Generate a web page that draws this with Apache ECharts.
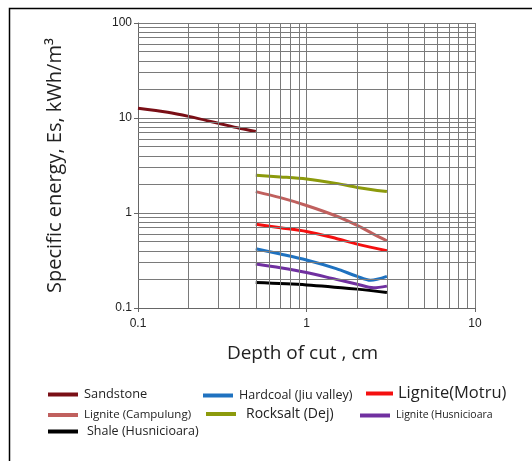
<!DOCTYPE html>
<html><head><meta charset="utf-8">
<script src="https://cdn.jsdelivr.net/npm/echarts@6/dist/echarts.min.js"></script>
<style>html,body{margin:0;padding:0;background:#fff}#c{width:532px;height:461px}</style>
</head><body><div id="c"></div>
<script>
const seriesNames = ['Sandstone','Hardcoal (Jiu valley)','Lignite(Motru)','Lignite (Campulung)','Rocksalt (Dej)','Lignite (Husnicioara','Shale (Husnicioara)'];
const sandstone = [[0.1,12.7],[0.15,11.5],[0.2,10.4],[0.3,8.8],[0.4,7.8],[0.5,7.2]];
const hardcoal = [[0.5,0.42],[0.7,0.37],[1,0.32],[1.5,0.26],[2,0.215],[2.4,0.196],[3,0.215]];
const ligniteMotru = [[0.5,0.76],[0.7,0.70],[1,0.64],[1.5,0.54],[2,0.47],[3,0.40]];
const ligniteCampulung = [[0.5,1.68],[0.7,1.45],[1,1.2],[1.5,0.93],[2,0.74],[2.5,0.6],[3,0.51]];
const rocksalt = [[0.5,2.5],[0.7,2.4],[1,2.28],[1.5,2.05],[2,1.86],[3,1.68]];
const ligniteHusnicioara = [[0.5,0.29],[0.7,0.265],[1,0.236],[1.5,0.2],[2,0.178],[2.5,0.163],[3,0.17]];
const shale = [[0.5,0.185],[1,0.175],[2,0.158],[3,0.146]];
const xMinorGrid = [0.2,0.3,0.4,0.5,0.6,0.7,0.8,0.9,2,3,4,5,6,7,8,9];
const yMinorGrid = [0.2,0.3,0.4,0.5,0.6,0.7,0.8,0.9,2,3,4,5,6,7,8,9,20,30,40,50,60,70,80,90];

const allData = [sandstone,hardcoal,ligniteMotru,ligniteCampulung,rocksalt,ligniteHusnicioara,shale];
const colors = ['#7A0F16','#1F72C0','#F41010','#C0605E','#8C9A0C','#7030A0','#000000'];
const legendFont = [12.8,12.5,16.5,11.5,14,10.5,12.5];
const legendPad = [1,1,0,1,5,1,4];
const legendIconW = [30,30,27,30,30,30,30];
const legendPos = [[48,388],[203,389],[366,385],[48,409],[206,407],[360,410],[48,425]];

const chart = echarts.init(document.getElementById('c'));
const gridColor = '#7a7a7a';
const series = [{
  type:'line', name:'_grid', data:[[1,1]], showSymbol:false, silent:true,
  lineStyle:{opacity:0}, z:1,
  markLine:{silent:true, symbol:'none', label:{show:false}, animation:false,
    lineStyle:{color:gridColor, width:1, type:'solid'},
    data: xMinorGrid.map(v=>({xAxis:v})).concat(yMinorGrid.map(v=>({yAxis:v})))}
}];
allData.forEach((d,i)=>{
  series.push({type:'line', name:seriesNames[i], data:d, smooth:0.3, showSymbol:false,
    lineStyle:{width:3, color:colors[i]}, itemStyle:{color:colors[i]}, z:3});
});
const legends = seriesNames.map((n,i)=>({
  data:[{name:n, textStyle:{fontSize:legendFont[i], padding:[0,0,0,legendPad[i]]}}], left:legendPos[i][0], top:legendPos[i][1],
  icon:'rect', itemWidth:legendIconW[i], itemHeight:4, padding:0, selectedMode:false,
  textStyle:{fontFamily:'Open Sans', color:'#222'}
}));
chart.setOption({
  backgroundColor:'#fff',
  animation:false,
  graphic:[{type:'rect', left:7, top:6, shape:{width:600,height:600}, style:{fill:'none', stroke:'#000', lineWidth:1.5}}],
  legend:legends,
  grid:{left:138, top:23, width:337, height:285},
  xAxis:{type:'log', logBase:10, min:0.1, max:10,
    name:'Depth of cut , cm', nameLocation:'middle', nameGap:36,
    nameTextStyle:{fontFamily:'Open Sans', fontSize:19, color:'#222', padding:[0,8,0,0]},
    axisLine:{lineStyle:{color:'#666'}}, axisTick:{show:true, length:4, lineStyle:{color:'#666'}},
    axisLabel:{fontFamily:'Liberation Sans', fontSize:12, color:'#222', margin:10},
    splitLine:{show:true, lineStyle:{color:gridColor, width:1}}},
  yAxis:{type:'log', logBase:10, min:0.1, max:100,
    name:'Specific energy, Es, kWh/m³', nameLocation:'middle', nameGap:73,
    nameTextStyle:{fontFamily:'Open Sans', fontSize:20, color:'#222'},
    axisLine:{show:true, lineStyle:{color:'#666'}}, axisTick:{show:true, length:4, lineStyle:{color:'#666'}},
    axisLabel:{fontFamily:'Liberation Sans', fontSize:12, color:'#222', margin:6},
    splitLine:{show:true, lineStyle:{color:gridColor, width:1}}},
  series:series
});
</script></body></html>
